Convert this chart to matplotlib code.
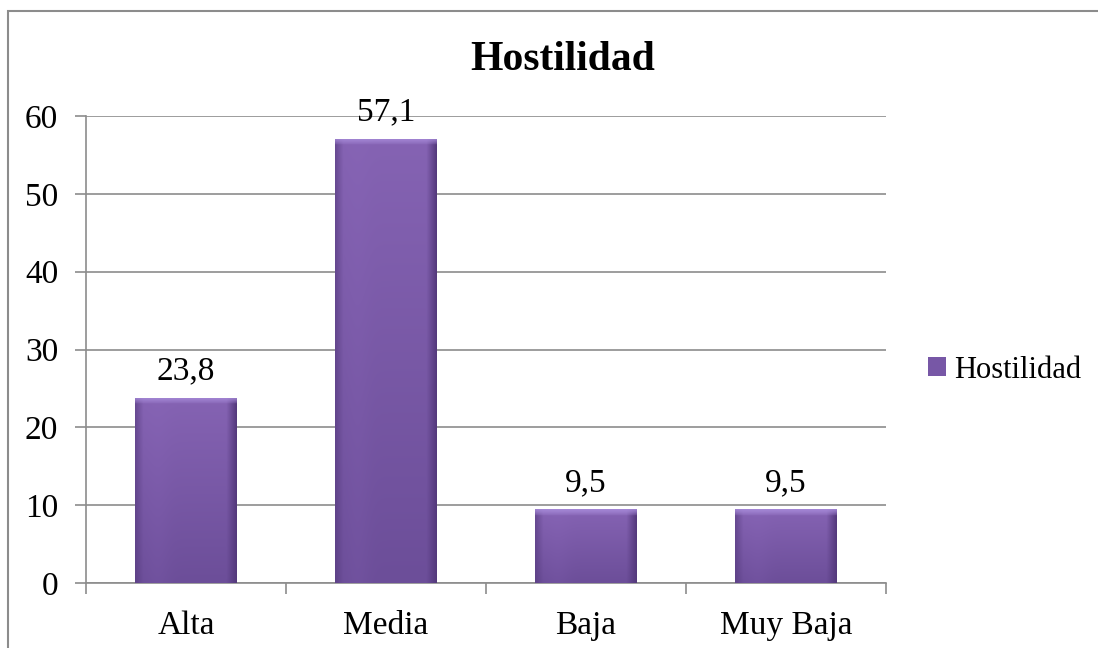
import numpy as np
import matplotlib
matplotlib.use('Agg')
from matplotlib import pyplot as plt
from matplotlib.patches import Rectangle
from matplotlib.colors import to_rgb

categorias = ['Alta', 'Media', 'Baja', 'Muy Baja']
valores = [23.8, 57.1, 9.5, 9.5]
etiquetas = ['23,8', '57,1', '9,5', '9,5']
serie = 'Hostilidad'
titulo = 'Hostilidad'

plt.rcParams['font.family'] = ['Liberation Serif', 'DejaVu Serif']

fig = plt.figure(figsize=(10.98, 6.48), dpi=100)
ax = fig.add_axes([86/1098, 1 - 583/648, 800/1098, (583 - 116)/648])

x = np.arange(len(categorias))
bars = ax.bar(x, valores, width=0.51, color='#7757a6', label=serie, zorder=2)

# shaded fill for each bar: light top bevel, darker sides, darker towards the base
c_top = np.array(to_rgb('#8563b3'))
c_bot = np.array(to_rgb('#6c4e99'))
c_bevel = np.array(to_rgb('#a98ddb'))
c_edge = np.array(to_rgb('#54397c'))
for b in bars:
    x0, w, h = b.get_x(), b.get_width(), b.get_height()
    rows = int(h * 10)
    cols = 100
    v = np.linspace(0, 1, rows)[:, None, None]
    img = c_top * (1 - v) + c_bot * v
    img = np.repeat(img, cols, axis=1)
    u = np.linspace(0, 1, cols)
    side = np.clip(np.maximum(0.08 - u, u - 0.9) / 0.1, 0, 1)
    side = np.where(u < 0.08, (0.08 - u) / 0.08 * 0.6, side)
    img = img * (1 - side[None, :, None]) + c_edge * side[None, :, None]
    # slightly lighter stripe on the left third
    stripe = np.exp(-((u - 0.22) / 0.12) ** 2) * 0.12
    img = img * (1 - stripe[None, :, None]) + c_top * 1.08 * stripe[None, :, None]
    bev = 8
    for r in range(min(bev, rows)):
        t = (1 - r / bev) ** 0.7
        img[r] = img[r] * (1 - 0.85 * t) + c_bevel * 0.85 * t
    img = np.clip(img, 0, 1)
    im = ax.imshow(img, extent=(x0, x0 + w, 0, h), aspect='auto', zorder=3,
                   interpolation='bilinear')
    im.set_clip_path(b)

for xi, v, lab in zip(x, valores, etiquetas):
    ax.annotate(lab, (xi, v), xytext=(0, 8), textcoords='offset points',
                ha='center', va='bottom', fontsize=24, color='black', zorder=4)

ax.set_xlim(-0.5, len(categorias) - 0.5)
ax.set_ylim(0, 60)
ax.set_yticks(range(0, 61, 10))
ax.set_xticks(x)
ax.set_xticklabels(categorias)
ax.set_xticks(np.arange(-0.5, len(categorias), 1), minor=True)
ax.tick_params(axis='x', which='major', length=0, labelsize=24, pad=20)
ax.tick_params(axis='x', which='minor', length=8, width=1.2, color='#8c8c8c', direction='out')
ax.tick_params(axis='y', length=8, width=1.2, color='#8c8c8c', labelsize=24, pad=12)
ax.yaxis.grid(True, color='#8c8c8c', linewidth=1.2, zorder=1)
ax.set_axisbelow(True)
for s in ['top', 'right']:
    ax.spines[s].set_visible(False)
for s in ['left', 'bottom']:
    ax.spines[s].set_color('#8c8c8c')
    ax.spines[s].set_linewidth(1.2)

fig.text(563/1098, 1 - 60/648, titulo, ha='center', va='center',
         fontsize=30, fontweight='bold')

fig.legend(handles=[bars], labels=[serie], loc='center left',
           bbox_to_anchor=(928/1098, 1 - 370/648), frameon=False,
           fontsize=22, handlelength=0.6, handleheight=0.6,
           handletextpad=0.25, borderpad=0, borderaxespad=0)

fig.patches.append(Rectangle((8/1098, -0.05), 1.2, 1 - 11/648 + 0.05,
                             transform=fig.transFigure, fill=False,
                             edgecolor='#8c8c8c', linewidth=1.5))

fig.savefig('out.png', dpi=100)
